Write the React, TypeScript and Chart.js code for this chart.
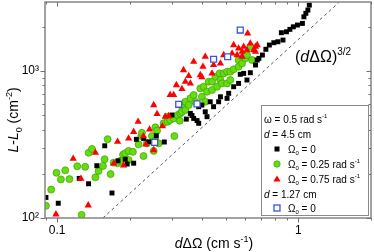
import React, { useEffect, useRef } from 'react';
import { Chart, registerables } from 'chart.js';

Chart.register(...registerables);

const FONT = '"Liberation Sans", Arial, Helvetica, sans-serif';

// d = 4.5 cm, Omega0 = 0
const blackX = [0.0898, 0.101, 0.1234, 0.1349, 0.146, 0.1574, 0.1687, 0.1787, 0.1914, 0.195, 0.2075, 0.2129, 0.2282, 0.2393, 0.2576, 0.278, 0.299, 0.343, 0.3565, 0.362, 0.368, 0.38, 0.386, 0.398, 0.386, 0.411, 0.418, 0.431, 0.445, 0.467, 0.475, 0.506, 0.514, 0.539, 0.565, 0.574, 0.593, 0.612, 0.632, 0.664, 0.675, 0.686, 0.709, 0.733, 0.758, 0.791, 0.822, 0.863, 0.85, 0.892, 0.922, 0.953, 0.991, 1.039, 1.054, 1.074, 1.095, 1.11];
const blackY = [138, 126, 186, 171, 227, 310, 148, 245, 251, 233, 236, 343, 348, 330, 363, 329, 502, 471, 515, 498, 476, 460, 441, 587, 572, 528, 489, 618, 572, 618, 668, 652, 705, 782, 824, 950, 964, 869, 974, 1099, 1188, 1220, 1285, 1406, 1503, 1559, 1583, 1625, 1823, 1850, 1922, 2000, 2056, 2109, 2339, 2472, 2601, 2811];

// d = 4.5 cm, Omega0 = 0.25 rad/s
const greenX = [0.0898, 0.0944, 0.0993, 0.1036, 0.108, 0.1124, 0.1211, 0.1306, 0.1349, 0.1394, 0.144, 0.1484, 0.1548, 0.1572, 0.1665, 0.1262, 0.1618, 0.1714, 0.178, 0.183, 0.1875, 0.1914, 0.1977, 0.1977, 0.206, 0.2174, 0.2232, 0.2246, 0.228, 0.2355, 0.247, 0.2512, 0.2553, 0.2553, 0.2594, 0.2632, 0.276, 0.285, 0.287, 0.294, 0.304, 0.306, 0.3155, 0.322, 0.324, 0.329, 0.329, 0.34, 0.34, 0.351, 0.3565, 0.368, 0.374, 0.392, 0.398, 0.4045, 0.411, 0.418, 0.4246, 0.4385, 0.4385, 0.453, 0.46, 0.471, 0.475, 0.482, 0.49, 0.506, 0.506, 0.522, 0.522, 0.539, 0.565, 0.565, 0.584, 0.593, 0.603, 0.612, 0.632, 0.643];
const greenY = [121, 156, 203, 183, 211, 184, 225, 223, 278, 295, 189, 209, 226, 251, 199, 105, 344, 238, 236, 245, 270, 276, 286, 248, 282, 317, 361, 380, 264, 322, 361, 286, 336, 414, 393, 322, 441, 489, 452, 464, 477, 361, 502, 459, 515, 572, 528, 543, 618, 587, 652, 687, 618, 762, 668, 782, 618, 723, 846, 846, 743, 914, 782, 964, 869, 824, 964, 989, 824, 989, 869, 1027, 1070, 1188, 1128, 1251, 1220, 1285, 1463, 1188];

// d = 4.5 cm, Omega0 = 0.75 rad/s
const redX = [0.0988, 0.1165, 0.1254, 0.1345, 0.144, 0.1716, 0.178, 0.1884, 0.1977, 0.2075, 0.2165, 0.2277, 0.233, 0.2415, 0.2512, 0.2512, 0.2594, 0.273, 0.2807, 0.29, 0.294, 0.304, 0.312, 0.329, 0.34, 0.351, 0.334, 0.3565, 0.368, 0.392, 0.398, 0.402, 0.411, 0.4385, 0.445, 0.475, 0.49, 0.531, 0.539, 0.557, 0.565, 0.584, 0.584, 0.593, 0.612, 0.616, 0.632, 0.653, 0.664, 0.664, 0.675];
const redY = [106, 253, 185, 122, 278, 235, 331, 228, 348, 386, 452, 360, 317, 401, 587, 290, 510, 421, 489, 494, 687, 687, 803, 755, 846, 925, 1016, 824, 1157, 939, 910, 1070, 1251, 964, 1099, 1128, 1285, 1319, 1503, 1285, 1426, 1251, 1353, 1463, 1390, 1803, 1542, 1390, 1463, 1353, 1503];

// d = 1.27 cm, Omega0 = 0
const blueX = [0.2536, 0.319, 0.38, 0.445, 0.509, 0.574];
const blueY = [327, 594, 598, 1203, 1251, 1901];

// (d dOmega)^(3/2) reference line end points
const refX = [0.1547, 1.476];
const refY = [100, 2944];

const xMin = 0.089;
const xMax = 2.0;
const yMin = 100;
const yMax = 2950;

const xMajorTicks = [0.1, 1];
const xMinorTicks = [0.09, 0.2, 0.3, 0.4, 0.5, 0.6, 0.7, 0.8, 0.9, 2];
const yMajorTicks = [100, 1000];
const yMinorTicks = [200, 300, 400, 500, 600, 700, 800, 900, 2000];
const xTickLabels = ['0.1', '1'];
const yTickLabels = ['10\u00B2', '10\u00B3'];

type Seg = { t: string; it?: boolean; sub?: boolean; sup?: boolean };

const xTitle: Seg[] = [{ t: 'd', it: true }, { t: '\u0394\u03A9 (cm s' }, { t: '-1', sup: true }, { t: ')' }];
const yTitle: Seg[] = [{ t: 'L', it: true }, { t: '-' }, { t: 'L', it: true }, { t: '0', sub: true }, { t: ' (cm' }, { t: '-2', sup: true }, { t: ')' }];
const refLabel: Seg[] = [{ t: '(' }, { t: 'd', it: true }, { t: '\u0394\u03A9)' }, { t: '3/2', sup: true }];

const legendHeader: Seg[] = [{ t: '\u03C9 = 0.5 rad s' }, { t: '-1', sup: true }];
const legendD1: Seg[] = [{ t: 'd', it: true }, { t: ' = 4.5 cm' }];
const legendD2: Seg[] = [{ t: 'd', it: true }, { t: ' = 1.27 cm' }];
const legendBlack: Seg[] = [{ t: '\u03A9' }, { t: '0', sub: true }, { t: ' = 0' }];
const legendGreen: Seg[] = [{ t: '\u03A9' }, { t: '0', sub: true }, { t: ' = 0.25 rad s' }, { t: '-1', sup: true }];
const legendRed: Seg[] = [{ t: '\u03A9' }, { t: '0', sub: true }, { t: ' = 0.75 rad s' }, { t: '-1', sup: true }];
const legendBlue: Seg[] = [{ t: '\u03A9' }, { t: '0', sub: true }, { t: ' = 0' }];

const GREEN = '#66dd11';
const GREEN_EDGE = '#3f9f00';
const RED = '#ff0000';
const BLUE = '#3a55e0';

function segFont(s: Seg, size: number) {
  const fs = s.sub || s.sup ? Math.round(size * 0.62) : size;
  return `${s.it ? 'italic ' : ''}${fs}px ${FONT}`;
}

function drawRich(ctx: CanvasRenderingContext2D, segs: Seg[], x: number, y: number, size: number, align: 'left' | 'center') {
  ctx.save();
  ctx.textBaseline = 'alphabetic';
  ctx.textAlign = 'left';
  ctx.fillStyle = '#000';
  let w = 0;
  for (const s of segs) {
    ctx.font = segFont(s, size);
    w += ctx.measureText(s.t).width;
  }
  let cx = align === 'center' ? x - w / 2 : x;
  for (const s of segs) {
    ctx.font = segFont(s, size);
    const dy = s.sub ? size * 0.28 : s.sup ? -size * 0.42 : 0;
    ctx.fillText(s.t, cx, y + dy);
    cx += ctx.measureText(s.t).width;
  }
  ctx.restore();
}

const decorPlugin = {
  id: 'decor',
  afterDatasetsDraw(chart: any) {
    const ctx: CanvasRenderingContext2D = chart.ctx;
    const { left, right, top, bottom } = chart.chartArea;
    const xs = chart.scales.x;
    const ys = chart.scales.y;
    ctx.save();

    // frame
    ctx.strokeStyle = '#858585';
    ctx.lineWidth = 1.5;
    ctx.strokeRect(left, top, right - left, bottom - top);

    // ticks
    ctx.lineWidth = 1;
    ctx.strokeStyle = '#707070';
    const drawX = (v: number, len: number) => {
      const px = Math.round(xs.getPixelForValue(v)) + 0.5;
      ctx.beginPath();
      ctx.moveTo(px, bottom);
      ctx.lineTo(px, bottom + len);
      ctx.moveTo(px, top);
      ctx.lineTo(px, top + len);
      ctx.stroke();
    };
    const drawY = (v: number, len: number) => {
      const py = Math.round(ys.getPixelForValue(v)) + 0.5;
      ctx.beginPath();
      ctx.moveTo(left - len, py);
      ctx.lineTo(left, py);
      ctx.moveTo(right, py);
      ctx.lineTo(right - len, py);
      ctx.stroke();
    };
    xMajorTicks.forEach((v) => drawX(v, 4.5));
    xMinorTicks.forEach((v) => drawX(v, 2.5));
    yMajorTicks.forEach((v) => drawY(v, 4.5));
    yMinorTicks.forEach((v) => drawY(v, 2.5));

    // tick labels
    ctx.fillStyle = '#000';
    ctx.font = `12px ${FONT}`;
    ctx.textAlign = 'center';
    ctx.textBaseline = 'top';
    xMajorTicks.forEach((v, i) => {
      ctx.fillText(xTickLabels[i], xs.getPixelForValue(v), bottom + 7);
    });
    ctx.textAlign = 'right';
    ctx.textBaseline = 'middle';
    yMajorTicks.forEach((v, i) => {
      ctx.fillText(yTickLabels[i], left - 6, ys.getPixelForValue(v));
    });

    // axis titles
    drawRich(ctx, xTitle, 214, 248, 14, 'center');
    ctx.save();
    ctx.translate(13, 120);
    ctx.rotate(-Math.PI / 2);
    drawRich(ctx, yTitle, 0, 5, 14, 'center');
    ctx.restore();

    // reference line label
    drawRich(ctx, refLabel, 295, 61.5, 16, 'left');

    // legend box
    const bx = 261, by = 105, bw = 107, bh = 110;
    ctx.fillStyle = '#ffffff';
    ctx.fillRect(bx, by, bw, bh);
    ctx.strokeStyle = '#8a8a8a';
    ctx.lineWidth = 1;
    ctx.strokeRect(bx + 0.5, by + 0.5, bw, bh);

    const rowY = [119, 134, 149, 164, 179, 194, 208];
    const textX = 264;
    const markX = 277;
    const labX = 288;
    const base = (i: number) => rowY[i] + 3.6;
    drawRich(ctx, legendHeader, textX, base(0), 10, 'left');
    drawRich(ctx, legendD1, textX, base(1), 10, 'left');
    ctx.fillStyle = '#000';
    ctx.fillRect(markX - 2.5, rowY[2] - 2.5, 5, 5);
    drawRich(ctx, legendBlack, labX, base(2), 10, 'left');
    ctx.beginPath();
    ctx.arc(markX, rowY[3], 3.2, 0, Math.PI * 2);
    ctx.fillStyle = GREEN;
    ctx.fill();
    ctx.strokeStyle = GREEN_EDGE;
    ctx.lineWidth = 0.7;
    ctx.stroke();
    drawRich(ctx, legendGreen, labX, base(3), 10, 'left');
    ctx.beginPath();
    ctx.moveTo(markX, rowY[4] - 3.5);
    ctx.lineTo(markX + 3.6, rowY[4] + 2.6);
    ctx.lineTo(markX - 3.6, rowY[4] + 2.6);
    ctx.closePath();
    ctx.fillStyle = RED;
    ctx.fill();
    drawRich(ctx, legendRed, labX, base(4), 10, 'left');
    drawRich(ctx, legendD2, textX, base(5), 10, 'left');
    ctx.strokeStyle = BLUE;
    ctx.lineWidth = 1.3;
    ctx.fillStyle = '#fff';
    ctx.fillRect(markX - 3, rowY[6] - 3, 6, 6);
    ctx.strokeRect(markX - 3, rowY[6] - 3, 6, 6);
    drawRich(ctx, legendBlue, labX, base(6), 10, 'left');

    ctx.restore();
  },
};

function pts(xs: number[], ys: number[]) {
  return xs.map((x, i) => ({ x, y: ys[i] }));
}

export default function App() {
  const ref = useRef<HTMLCanvasElement | null>(null);
  useEffect(() => {
    if (!ref.current) return;
    const chart = new Chart(ref.current, {
      type: 'scatter',
      data: {
        datasets: [
          {
            label: 'ref',
            data: pts(refX, refY),
            showLine: true,
            pointRadius: 0,
            borderColor: '#555555',
            borderWidth: 1,
            borderDash: [3, 3],
            order: 5,
          } as any,
          {
            label: 'green',
            data: pts(greenX, greenY),
            pointStyle: 'circle',
            pointRadius: 3.5,
            backgroundColor: GREEN,
            borderColor: GREEN_EDGE,
            borderWidth: 0.7,
            order: 4,
          },
          {
            label: 'black',
            data: pts(blackX, blackY),
            pointStyle: 'rect',
            pointRadius: 3.5,
            backgroundColor: '#000',
            borderColor: '#000',
            borderWidth: 0,
            order: 3,
          },
          {
            label: 'red',
            data: pts(redX, redY),
            pointStyle: 'triangle',
            pointRadius: 4.2,
            backgroundColor: RED,
            borderColor: RED,
            borderWidth: 0,
            order: 2,
          },
          {
            label: 'blue',
            data: pts(blueX, blueY),
            pointStyle: 'rect',
            pointRadius: 4.2,
            backgroundColor: '#ffffff',
            borderColor: BLUE,
            borderWidth: 1.3,
            order: 1,
          },
        ],
      },
      options: {
        animation: false,
        responsive: false,
        maintainAspectRatio: false,
        devicePixelRatio: 1,
        events: [],
        layout: { autoPadding: false, padding: { top: 2, right: 3, left: 0, bottom: 0 } },
        plugins: { legend: { display: false }, tooltip: { enabled: false } },
        scales: {
          x: {
            type: 'logarithmic',
            min: xMin,
            max: xMax,
            grid: { display: false, drawTicks: false },
            border: { display: false },
            ticks: { display: false },
            afterFit: (s: any) => {
              s.height = 34;
              s.paddingLeft = 0;
              s.paddingRight = 0;
            },
          },
          y: {
            type: 'logarithmic',
            min: yMin,
            max: yMax,
            grid: { display: false, drawTicks: false },
            border: { display: false },
            ticks: { display: false },
            afterFit: (s: any) => {
              s.width = 45;
              s.paddingTop = 0;
              s.paddingBottom = 0;
            },
          },
        },
      } as any,
      plugins: [decorPlugin],
    });
    return () => chart.destroy();
  }, []);

  return (
    <div style={{ position: 'fixed', left: 0, top: 0, width: 374, height: 252, background: '#fff' }}>
      <canvas ref={ref} width={374} height={252} style={{ width: 374, height: 252, display: 'block' }} />
    </div>
  );
}
